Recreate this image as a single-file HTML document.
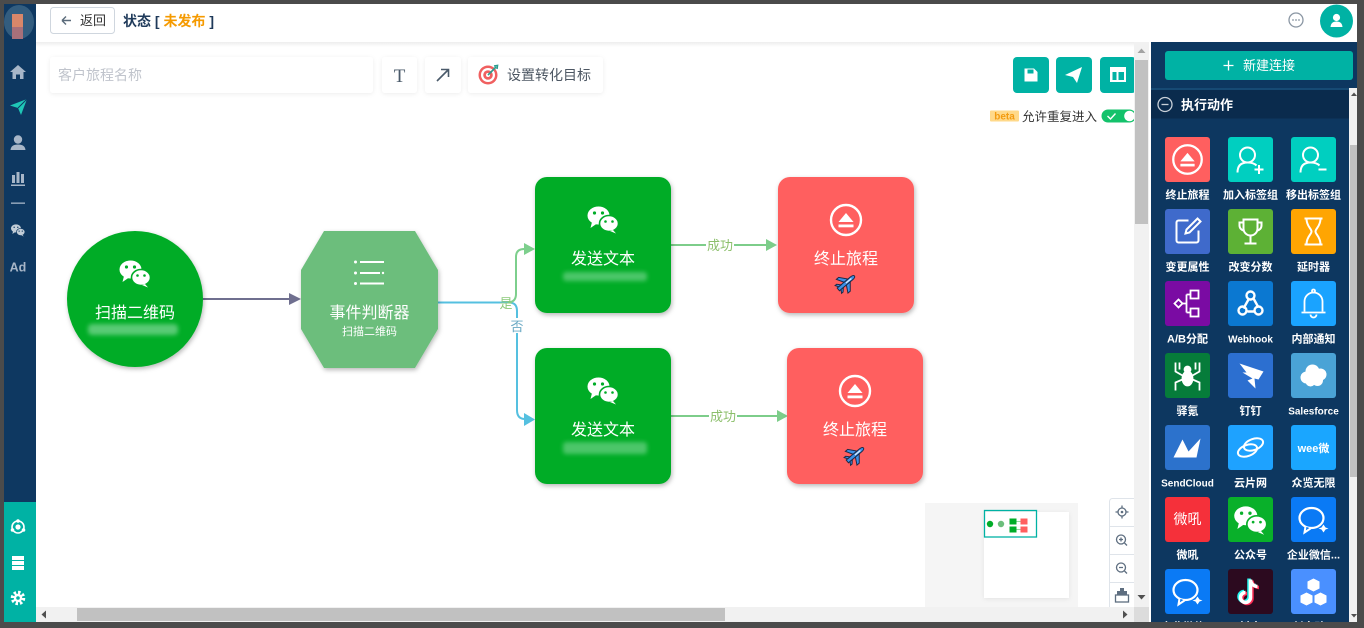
<!DOCTYPE html>
<html><head><meta charset="utf-8">
<style>
html,body{margin:0;padding:0;width:1364px;height:628px;overflow:hidden;background:#4b4b4b;}
svg{display:block;font-family:"Liberation Sans","Noto Sans CJK SC",sans-serif;}
</style></head><body>
<svg width="1364" height="628" viewBox="0 0 1364 628" xmlns="http://www.w3.org/2000/svg">
<defs>
 <filter id="sh" x="-20%" y="-20%" width="140%" height="140%"><feDropShadow dx="1" dy="2" stdDeviation="2.5" flood-color="#000" flood-opacity="0.28"/></filter>
 <filter id="sh2" x="-10%" y="-30%" width="120%" height="160%"><feDropShadow dx="0" dy="1" stdDeviation="2" flood-color="#000" flood-opacity="0.07"/></filter>
 <filter id="bl" x="-20%" y="-60%" width="140%" height="220%"><feGaussianBlur stdDeviation="2"/></filter>
 <linearGradient id="hs" x1="0" y1="0" x2="0" y2="1"><stop offset="0" stop-color="#000" stop-opacity="0.07"/><stop offset="1" stop-color="#000" stop-opacity="0"/></linearGradient>
 <g id="wx">
  <ellipse cx="-4.5" cy="-3.5" rx="11" ry="9" fill="#fff"/>
  <polygon points="-11,3 -12.5,9 -6,4.5" fill="#fff"/>
  <circle cx="-8.5" cy="-6" r="1.6" fill="currentColor"/>
  <circle cx="-0.5" cy="-6" r="1.6" fill="currentColor"/>
  <ellipse cx="6" cy="4.5" rx="9.5" ry="8" fill="#fff" stroke="currentColor" stroke-width="1.6"/>
  <polygon points="10,11 13,14.5 7,12" fill="#fff"/>
  <circle cx="2.5" cy="2.5" r="1.3" fill="currentColor"/>
  <circle cx="9.5" cy="2.5" r="1.3" fill="currentColor"/>
 </g>
 <g id="ej">
  <circle cx="0" cy="0" r="15" fill="none" stroke="#fff" stroke-width="2.4"/>
  <polygon points="-7.5,2 7.5,2 0,-7" fill="#fff"/>
  <rect x="-7.5" y="4.5" width="15" height="2.8" fill="#fff"/>
 </g>
 <g id="pl">
  <g transform="rotate(-40)">
   <path d="M-10 -1.8 H7 Q11 -1.8 11 0 Q11 1.8 7 1.8 H-10 Z" fill="#3d8fe6" stroke="#1b2b48" stroke-width="1"/>
   <path d="M-1 -1.8 L-5 -9 L-2 -9 L4 -1.8 Z" fill="#3d8fe6" stroke="#1b2b48" stroke-width="1"/>
   <path d="M-1 1.8 L-5 9 L-2 9 L4 1.8 Z" fill="#3d8fe6" stroke="#1b2b48" stroke-width="1"/>
   <path d="M-8 -1.8 L-10 -5 L-8 -5 L-5 -1.8 Z M-8 1.8 L-10 5 L-8 5 L-5 1.8 Z" fill="#3d8fe6" stroke="#1b2b48" stroke-width="1"/>
   <rect x="0" y="-0.6" width="7" height="1.2" fill="#dfefff"/>
  </g>
 </g>
 <g id="qw">
  <ellipse cx="-2" cy="-1.5" rx="12" ry="10" fill="none" stroke="#fff" stroke-width="2.2"/>
  <path d="M-8 7 L-9 13 L-3 9" fill="#0a7af5" stroke="#fff" stroke-width="2"/>
  <path d="M10 5 L12 8 L15 9 L12 10 L10 13 L8 10 L5 9 L8 8 Z" fill="#fff"/>
 </g>
</defs>

<!-- sidebar -->
<rect x="4" y="4" width="32" height="618" fill="#0e3861"/>
<ellipse cx="19" cy="22" rx="15" ry="17" fill="#3d6687" opacity="0.8"/>
<rect x="12" y="14" width="11" height="13" fill="#d9876a"/>
<rect x="12" y="27" width="11" height="12" fill="#a8707a"/>
<path d="M10 72 L18 65 L26 72 H23.5 V79 H20 V74.5 H16 V79 H12.5 V72 Z" fill="#a7b6c8"/>
<polygon points="10,105.5 27,99 21,115 18,108" fill="#1fc7b6"/>
<line x1="18" y1="108" x2="27" y2="99" stroke="#0e3861" stroke-width="1"/>
<circle cx="18" cy="139.5" r="4.2" fill="#a7b6c8"/>
<path d="M10.5 150 Q11 144.5 18 144.5 Q25 144.5 25.5 150 Z" fill="#a7b6c8"/>
<rect x="12" y="175" width="3" height="8" fill="#a7b6c8"/>
<rect x="16.5" y="172" width="3" height="11" fill="#a7b6c8"/>
<rect x="21" y="174" width="3" height="9" fill="#a7b6c8"/>
<rect x="11" y="184.5" width="14" height="1.5" fill="#a7b6c8"/>
<rect x="11" y="202.5" width="14" height="1.3" fill="#a7b6c8"/>
<use href="#wx" transform="translate(18,230) scale(0.45)" color="#0e3861" opacity="0.75"/>
<text x="18" y="271.5" font-size="12.5" font-weight="bold" fill="#a7b6c8" text-anchor="middle">Ad</text>
<rect x="4" y="502" width="32" height="120" fill="#00b2a4"/>
<circle cx="18" cy="527" r="6" fill="none" stroke="#fff" stroke-width="1.6"/>
<circle cx="18" cy="527" r="2.6" fill="#fff"/>
<circle cx="18" cy="521" r="1.8" fill="#fff"/><circle cx="12.5" cy="530" r="1.8" fill="#fff"/><circle cx="23.5" cy="530" r="1.8" fill="#fff"/>
<rect x="12" y="556" width="12" height="4" fill="#fff"/><rect x="12" y="561" width="12" height="4" fill="#fff"/><rect x="12" y="566" width="12" height="4" fill="#fff"/>
<circle cx="18" cy="598" r="5.5" fill="none" stroke="#fff" stroke-width="3.5" stroke-dasharray="2.4 1.9"/>
<circle cx="18" cy="598" r="4.2" fill="#fff"/>
<circle cx="18" cy="598" r="1.8" fill="#00b2a4"/>

<!-- header -->
<rect x="36" y="4" width="1321" height="38" fill="#fff"/>
<rect x="50.5" y="7.5" width="64" height="26" rx="3" fill="#fff" stroke="#cfd6de"/>
<path d="M62 20.5 H71 M62 20.5 L66 16.5 M62 20.5 L66 24.5" stroke="#5a6a7a" stroke-width="1.4" fill="none"/>
<text x="80" y="25" font-size="13" fill="#333">返回</text>
<text x="123" y="26" font-size="14" font-weight="bold" fill="#1f3a5a">状态 [ <tspan fill="#f59a00">未发布</tspan> ]</text>
<circle cx="1296" cy="20" r="7" fill="none" stroke="#8a96a3" stroke-width="1.3"/>
<circle cx="1293" cy="20" r="0.9" fill="#8a96a3"/><circle cx="1296" cy="20" r="0.9" fill="#8a96a3"/><circle cx="1299" cy="20" r="0.9" fill="#8a96a3"/>
<circle cx="1336.5" cy="21" r="16.5" fill="#00b2a4"/>
<circle cx="1336.5" cy="17.5" r="3.6" fill="#fff"/>
<path d="M1330.5 27 Q1331 21.5 1336.5 21.5 Q1342 21.5 1342.5 27 Z" fill="#fff"/>

<!-- canvas -->
<rect x="36" y="42" width="1098" height="565" fill="#fff"/>
<rect x="36" y="42" width="1321" height="5" fill="url(#hs)"/>

<!-- toolbar -->
<rect x="50" y="57" width="323" height="36" rx="3" fill="#fff" filter="url(#sh2)"/>
<text x="58" y="80" font-size="14" fill="#c0c4cc">客户旅程名称</text>
<rect x="382" y="57" width="35" height="36" rx="3" fill="#fff" filter="url(#sh2)"/>
<text x="399.5" y="82" font-size="19" fill="#4a5a6a" text-anchor="middle" font-family="Liberation Serif, serif">T</text>
<rect x="425" y="57" width="36" height="36" rx="3" fill="#fff" filter="url(#sh2)"/>
<path d="M437 81 L448 70 M441 69.5 H448.5 V77" stroke="#4a5a6a" stroke-width="1.6" fill="none"/>
<rect x="468" y="57" width="135" height="36" rx="3" fill="#fff" filter="url(#sh2)"/>
<circle cx="488" cy="75" r="9.5" fill="#f06060"/>
<circle cx="488" cy="75" r="7" fill="#fff"/>
<circle cx="488" cy="75" r="4.8" fill="#f06060"/>
<circle cx="488" cy="75" r="2" fill="#fff"/>
<path d="M488 75 L496 67" stroke="#2a9d8f" stroke-width="1.6"/>
<path d="M494 66 L497.5 65.5 L497 69" stroke="#2a9d8f" stroke-width="1.6" fill="none"/>
<text x="507" y="80" font-size="14" fill="#4d5763">设置转化目标</text>

<rect x="1013" y="57" width="36" height="36" rx="4" fill="#00b2a4"/>
<path d="M1024.5 68.5 H1034 L1037.5 72 V81.5 H1024.5 Z" fill="#fff"/>
<rect x="1027.5" y="69.5" width="6" height="4" fill="#00b2a4"/>
<rect x="1056" y="57" width="36" height="36" rx="4" fill="#00b2a4"/>
<polygon points="1065,75 1082,67 1077,83 1073,77" fill="#fff"/>
<rect x="1100" y="57" width="36" height="36" rx="4" fill="#00b2a4"/>
<rect x="1110" y="67" width="16" height="15" fill="#fff"/>
<rect x="1112.5" y="72" width="4" height="8" fill="#00b2a4"/>
<rect x="1118.5" y="72" width="5.5" height="8" fill="#00b2a4"/>

<rect x="990" y="110.5" width="29" height="11" rx="1" fill="#ffd98a"/>
<text x="1004.5" y="119.5" font-size="10" font-weight="bold" fill="#f39c12" text-anchor="middle">beta</text>
<text x="1022" y="121" font-size="12.5" fill="#333">允许重复进入</text>
<rect x="1101.5" y="109.5" width="34.5" height="13" rx="6.5" fill="#13c26b"/>
<circle cx="1129.5" cy="116" r="5.3" fill="#fff"/>
<path d="M1107.5 116 L1110.5 119 L1115.5 113.5" stroke="#fff" stroke-width="1.4" fill="none"/>

<!-- connectors -->
<line x1="203" y1="299" x2="291" y2="299" stroke="#6f6f8f" stroke-width="2"/>
<polygon points="289,293 301,299 289,305" fill="#6f6f8f"/>
<path d="M438 302.5 H509 Q517 302.5 517 311 V410 Q517 419 525 419 H527" stroke="#55c0e0" stroke-width="2" fill="none"/>
<polygon points="524,413 535,419.5 524,426" fill="#55c0e0"/>
<path d="M508 302.5 Q516 302 516 294 V257 Q516 249 524 249 H527" stroke="#7dcf8d" stroke-width="2" fill="none"/>
<polygon points="524,243 535,249 524,255" fill="#7dcf8d"/>
<text x="506" y="308" font-size="13" fill="#8cc97a" text-anchor="middle">是</text>
<rect x="510" y="318" width="14" height="15" fill="#fff"/>
<text x="517" y="331" font-size="13" fill="#6aa9c4" text-anchor="middle">否</text>

<line x1="671" y1="245" x2="768" y2="245" stroke="#7dcd8a" stroke-width="2"/>
<polygon points="766,239 777,245 766,251" fill="#7dcd8a"/>
<rect x="706" y="237" width="28" height="16" fill="#fff"/>
<text x="720" y="250" font-size="13" fill="#8cbf6b" text-anchor="middle">成功</text>
<line x1="671" y1="416" x2="779" y2="416" stroke="#7dcd8a" stroke-width="2"/>
<polygon points="777,410 788,416 777,422" fill="#7dcd8a"/>
<rect x="709" y="408" width="28" height="16" fill="#fff"/>
<text x="723" y="421" font-size="13" fill="#8cbf6b" text-anchor="middle">成功</text>

<!-- nodes -->
<circle cx="135" cy="299" r="68" fill="#00ac28" filter="url(#sh)"/>
<use href="#wx" transform="translate(135,273)" color="#00ac28"/>
<text x="135" y="318" font-size="16" fill="#fff" text-anchor="middle">扫描二维码</text>
<rect x="88" y="324" width="90" height="11" rx="4" fill="#7fd896" opacity="0.7" filter="url(#bl)"/>

<polygon points="324,231 415,231 438,270 438,329 415,368 324,368 301,329 301,270" fill="#6cbe7c" filter="url(#sh)"/>
<circle cx="355.5" cy="262" r="1.5" fill="#fff"/><rect x="360" y="261" width="24" height="2" fill="#fff"/>
<circle cx="355.5" cy="273" r="1.5" fill="#fff"/><rect x="360" y="272" width="20" height="2" fill="#fff"/><circle cx="383" cy="273" r="1.2" fill="#fff"/>
<circle cx="355.5" cy="283.5" r="1.5" fill="#fff"/><rect x="360" y="282.5" width="24" height="2" fill="#fff"/>
<text x="369.5" y="318" font-size="16" fill="#fff" text-anchor="middle">事件判断器</text>
<text x="369.5" y="335" font-size="11" fill="#fff" text-anchor="middle">扫描二维码</text>

<rect x="535" y="177" width="136" height="136" rx="12" fill="#00ac28" filter="url(#sh)"/>
<use href="#wx" transform="translate(603,219)" color="#00ac28"/>
<text x="603" y="264" font-size="16" fill="#fff" text-anchor="middle">发送文本</text>
<rect x="563" y="272" width="84" height="9" rx="3" fill="#7fd896" opacity="0.6" filter="url(#bl)"/>

<rect x="778" y="177" width="136" height="136" rx="12" fill="#ff5f5f" filter="url(#sh)"/>
<use href="#ej" transform="translate(846,220)"/>
<text x="846" y="264" font-size="16" fill="#fff" text-anchor="middle">终止旅程</text>
<use href="#pl" transform="translate(846,283)"/>

<rect x="535" y="348" width="136" height="136" rx="12" fill="#00ac28" filter="url(#sh)"/>
<use href="#wx" transform="translate(603,390)" color="#00ac28"/>
<text x="603" y="435" font-size="16" fill="#fff" text-anchor="middle">发送文本</text>
<rect x="563" y="442" width="84" height="12" rx="3" fill="#7fd896" opacity="0.6" filter="url(#bl)"/>

<rect x="787" y="348" width="136" height="136" rx="12" fill="#ff5f5f" filter="url(#sh)"/>
<use href="#ej" transform="translate(855,391)"/>
<text x="855" y="435" font-size="16" fill="#fff" text-anchor="middle">终止旅程</text>
<use href="#pl" transform="translate(855,455)"/>

<!-- minimap -->
<rect x="925" y="503" width="153" height="106" fill="#f5f5f5"/>
<rect x="984" y="512" width="85" height="86" fill="#fff" filter="url(#sh2)"/>
<circle cx="990" cy="524" r="3.2" fill="#00ac28"/>
<circle cx="1001" cy="524" r="3.2" fill="#6cbe7c"/>
<rect x="1009.5" y="518.5" width="7" height="6" fill="#00ac28"/>
<rect x="1009.5" y="526.5" width="7" height="6" fill="#00ac28"/>
<rect x="1020.5" y="518.5" width="7" height="6" fill="#ff5f5f"/>
<rect x="1020.5" y="526.5" width="7" height="6" fill="#ff5f5f"/>
<line x1="1016.5" y1="521.5" x2="1020.5" y2="521.5" stroke="#7dcd8a" stroke-width="0.8"/>
<line x1="1016.5" y1="529.5" x2="1020.5" y2="529.5" stroke="#7dcd8a" stroke-width="0.8"/>
<rect x="984.5" y="510.5" width="52" height="26.5" fill="none" stroke="#00b2a4" stroke-width="1.3"/>

<!-- zoom controls -->
<rect x="1109.5" y="498.5" width="27" height="112" rx="3" fill="#fff" stroke="#dfe4ea"/>
<line x1="1110" y1="526.5" x2="1136" y2="526.5" stroke="#dfe4ea"/>
<line x1="1110" y1="554.5" x2="1136" y2="554.5" stroke="#dfe4ea"/>
<line x1="1110" y1="582.5" x2="1136" y2="582.5" stroke="#dfe4ea"/>
<circle cx="1122" cy="512" r="4" fill="none" stroke="#5e6e80" stroke-width="1.3"/>
<circle cx="1122" cy="512" r="1.3" fill="#5e6e80"/>
<path d="M1122 505.5 V507.5 M1122 516.5 V518.5 M1115.5 512 H1117.5 M1126.5 512 H1128.5" stroke="#5e6e80" stroke-width="1.3"/>
<circle cx="1121" cy="539.5" r="4.5" fill="none" stroke="#5e6e80" stroke-width="1.3"/>
<path d="M1119 539.5 H1123 M1121 537.5 V541.5 M1124.5 543 L1127 545.5" stroke="#5e6e80" stroke-width="1.3"/>
<circle cx="1121" cy="567.5" r="4.5" fill="none" stroke="#5e6e80" stroke-width="1.3"/>
<path d="M1119 567.5 H1123 M1124.5 571 L1127 573.5" stroke="#5e6e80" stroke-width="1.3"/>
<rect x="1117" y="591" width="10" height="4" fill="#5e6e80"/>
<rect x="1115.5" y="595" width="13" height="7" fill="none" stroke="#5e6e80" stroke-width="1.3"/>
<rect x="1120" y="588" width="4" height="3" fill="#5e6e80"/>

<!-- canvas scrollbars -->
<rect x="1134" y="42" width="15" height="565" fill="#f1f1f1"/>
<rect x="1135" y="60" width="13" height="164" fill="#c1c1c1"/>
<polygon points="1137.5,53 1141.5,48.5 1145.5,53" fill="#a3a3a3"/>
<polygon points="1137.5,595 1141.5,599.5 1145.5,595" fill="#505050"/>
<rect x="36" y="607" width="1098" height="15" fill="#f1f1f1"/>
<rect x="77" y="608" width="648" height="13" fill="#c1c1c1"/>
<polygon points="46,610.5 41.5,614.5 46,618.5" fill="#505050"/>
<polygon points="1123,610.5 1127.5,614.5 1123,618.5" fill="#505050"/>
<rect x="1134" y="607" width="15" height="15" fill="#dcdcdc"/>

<!-- right panel -->
<rect x="1149" y="42" width="2" height="580" fill="#fff"/>
<rect x="1151" y="42" width="206" height="580" fill="#0d3760"/>
<rect x="1165" y="51" width="188" height="29" rx="3" fill="#00b2a4"/>
<path d="M1223.5 65.5 H1233.5 M1228.5 60.5 V70.5" stroke="#fff" stroke-width="1.3"/>
<text x="1243" y="70" font-size="13" fill="#fff">新建连接</text>
<rect x="1151" y="88" width="206" height="2" fill="#164a74"/>
<rect x="1151" y="90" width="198" height="28.5" fill="#0a2b4d"/>
<circle cx="1165" cy="104.5" r="7" fill="none" stroke="#c8d0d8" stroke-width="1.3"/>
<line x1="1161.5" y1="104.5" x2="1168.5" y2="104.5" stroke="#c8d0d8" stroke-width="1.3"/>
<text x="1181" y="109.5" font-size="13" font-weight="bold" fill="#fff">执行动作</text>
<rect x="1349" y="88" width="8" height="534" fill="#f1f1f1"/>
<rect x="1350" y="145" width="7" height="332" fill="#c1c1c1"/>
<polygon points="1351,96 1354,92.5 1357,96" fill="#505050"/>
<polygon points="1351,614 1354,617.5 1357,614" fill="#505050"/>

<!-- grid tiles -->
<g>
<rect x="1165" y="137" width="45" height="45" rx="3" fill="#ff5f5f"/>
<rect x="1228" y="137" width="45" height="45" rx="3" fill="#00cfc0"/>
<rect x="1291" y="137" width="45" height="45" rx="3" fill="#00cfc0"/>
<rect x="1165" y="209" width="45" height="45" rx="3" fill="#3f6acb"/>
<rect x="1228" y="209" width="45" height="45" rx="3" fill="#5db135"/>
<rect x="1291" y="209" width="45" height="45" rx="3" fill="#ffa502"/>
<rect x="1165" y="281" width="45" height="45" rx="3" fill="#7a0ba3"/>
<rect x="1228" y="281" width="45" height="45" rx="3" fill="#0b78d1"/>
<rect x="1291" y="281" width="45" height="45" rx="3" fill="#1aa3ff"/>
<rect x="1165" y="353" width="45" height="45" rx="3" fill="#067c3a"/>
<rect x="1228" y="353" width="45" height="45" rx="3" fill="#2c6fd0"/>
<rect x="1291" y="353" width="45" height="45" rx="3" fill="#4aa3d6"/>
<rect x="1165" y="425" width="45" height="45" rx="3" fill="#2c72cc"/>
<rect x="1228" y="425" width="45" height="45" rx="3" fill="#1ea2ff"/>
<rect x="1291" y="425" width="45" height="45" rx="3" fill="#1aa6ff"/>
<rect x="1165" y="497" width="45" height="45" rx="3" fill="#f5303a"/>
<rect x="1228" y="497" width="45" height="45" rx="3" fill="#09b02a"/>
<rect x="1291" y="497" width="45" height="45" rx="3" fill="#0a7af5"/>
<rect x="1165" y="569" width="45" height="45" rx="3" fill="#0a7af5"/>
<rect x="1228" y="569" width="45" height="45" rx="3" fill="#2c0a1f"/>
<rect x="1291" y="569" width="45" height="45" rx="3" fill="#4a90ff"/>
</g>
<!-- grid glyphs -->
<use href="#ej" transform="translate(1187.5,159.5) scale(0.95)"/>
<g transform="translate(1250.5,159.5)" stroke="#fff" stroke-width="2" fill="none">
 <circle cx="-3" cy="-4.5" r="7.5"/><path d="M-13 13 Q-13 3 -3 3 Q3 3 6 6"/><path d="M4 10 H13 M8.5 5.5 V14.5"/>
</g>
<g transform="translate(1313.5,159.5)" stroke="#fff" stroke-width="2" fill="none">
 <circle cx="-3" cy="-4.5" r="7.5"/><path d="M-13 13 Q-13 3 -3 3 Q3 3 6 6"/><path d="M5 10 H13"/>
</g>
<g transform="translate(1187.5,231.5)" stroke="#fff" stroke-width="2" fill="none">
 <path d="M1 -11 H-9 a2 2 0 0 0 -2 2 V9 a2 2 0 0 0 2 2 H9 a2 2 0 0 0 2 -2 V-1"/><path d="M10 -13 L13 -10 L2 1 L-2 2 L-1 -2 Z"/>
</g>
<g transform="translate(1250.5,231.5)" stroke="#fff" stroke-width="2" fill="none">
 <path d="M-7 -12 H7 V-3 a7 7 0 0 1 -14 0 Z"/><path d="M-7 -9 H-11 V-6 a5 5 0 0 0 5 5 M7 -9 H11 V-6 a5 5 0 0 1 -5 5"/><path d="M0 4 V11 M-6 12 H6"/>
</g>
<g transform="translate(1313.5,231.5)" stroke="#fff" stroke-width="2" fill="none">
 <path d="M-9 -13 H9 M-9 13 H9"/><path d="M-7 -13 C-7 -5 -2 -3 -2 0 C-2 3 -7 5 -7 13 M7 -13 C7 -5 2 -3 2 0 C2 3 7 5 7 13"/>
</g>
<g transform="translate(1187.5,303.5)" stroke="#fff" stroke-width="1.8" fill="none">
 <polygon points="-13,0 -9,-4 -5,0 -9,4"/><rect x="3" y="-13" width="8" height="8"/><rect x="3" y="5" width="8" height="8"/><path d="M-5 0 H-1 M-1 -9 V9 M-1 -9 H3 M-1 9 H3"/>
</g>
<g transform="translate(1250.5,303.5)" stroke="#fff" stroke-width="2.4" fill="none">
 <path d="M-2 -4 L-7 5 M3 -5 L8 4 M-3 8 H4"/><circle cx="0" cy="-8" r="4"/><circle cx="-8" cy="7" r="4"/><circle cx="8" cy="7" r="4"/>
</g>
<g transform="translate(1313.5,303.5)" stroke="#fff" stroke-width="1.8" fill="none">
 <path d="M-9 8 V-2 a9 9 0 0 1 18 0 V8"/><path d="M-12 9 H12"/><circle cx="0" cy="-12.5" r="1.5"/><path d="M-3 11 a3 3 0 0 0 6 0"/>
</g>
<g transform="translate(1187.5,375.5)" stroke="#fff" stroke-width="1.8" fill="none">
 <ellipse cx="0" cy="3" rx="5" ry="7" fill="#fff"/><circle cx="0" cy="-6" r="3" fill="#fff"/>
 <path d="M-12 -13 V-4 L-5 0 M12 -13 V-4 L5 0 M-12 15 V7 L-5 4 M12 15 V7 L5 4 M-8 -13 V-6 M8 -13 V-6"/>
</g>
<path transform="translate(1250.5,375.5)" d="M-11 -12 L13 -4 L8 4 L4 3 L5 13 L-3 5 L2 3 L-8 -3 L-4 -3 Z" fill="#fff"/>
<g transform="translate(1313.5,375.5)" fill="#fff">
 <circle cx="-7" cy="2" r="6"/><circle cx="-1" cy="-4" r="7"/><circle cx="7" cy="-1" r="6"/><circle cx="4" cy="5" r="5.5"/><circle cx="-3" cy="6" r="5"/>
</g>
<polygon transform="translate(1187.5,447.5)" points="-14,10 -5,-8 1,4 13,-9 9,10" fill="#fff"/>
<g transform="translate(1250.5,447.5)" stroke="#fff" stroke-width="2" fill="none">
 <ellipse cx="-3" cy="3" rx="10" ry="5.5" transform="rotate(-20 -3 3)"/><ellipse cx="3" cy="-3" rx="10" ry="5.5" transform="rotate(-20 3 -3)"/>
</g>
<text x="1313.5" y="452" font-size="11" font-weight="bold" fill="#fff" text-anchor="middle">wee微</text>
<text x="1187.5" y="524" font-size="14" fill="#fff" text-anchor="middle">微吼</text>
<use href="#wx" transform="translate(1250.5,519.5) scale(1.05)" color="#09b02a"/>
<use href="#qw" transform="translate(1313.5,519.5)"/>
<use href="#qw" transform="translate(1187.5,591.5)"/>
<g transform="translate(1250.5,591.5)" fill="none" stroke-width="3.5">
 <path d="M0 -12 V6 a5 5 0 1 1 -5 -5 M0 -12 a7 7 0 0 0 7 7" stroke="#25f4ee" transform="translate(-1.5,-1)"/>
 <path d="M0 -12 V6 a5 5 0 1 1 -5 -5 M0 -12 a7 7 0 0 0 7 7" stroke="#fe2c55" transform="translate(1.5,1)"/>
 <path d="M0 -12 V6 a5 5 0 1 1 -5 -5 M0 -12 a7 7 0 0 0 7 7" stroke="#fff"/>
</g>
<g transform="translate(1313.5,591.5)" fill="#fff">
 <polygon points="0,-13 6,-10 6,-3 0,0 -6,-3 -6,-10"/><polygon points="-7,1 -1,4 -1,11 -7,14 -13,11 -13,4"/><polygon points="7,1 13,4 13,11 7,14 1,11 1,4"/>
</g>
<!-- labels -->
<g font-size="11" font-weight="bold" fill="#fff" text-anchor="middle">
<text x="1187.5" y="198.5">终止旅程</text><text x="1250.5" y="198.5">加入标签组</text><text x="1313.5" y="198.5">移出标签组</text>
<text x="1187.5" y="270.5">变更属性</text><text x="1250.5" y="270.5">改变分数</text><text x="1313.5" y="270.5">延时器</text>
<text x="1187.5" y="342.5">A/B分配</text><text x="1250.5" y="342.5" font-size="10">Webhook</text><text x="1313.5" y="342.5">内部通知</text>
<text x="1187.5" y="414.5">驿氪</text><text x="1250.5" y="414.5">钉钉</text><text x="1313.5" y="414.5" font-size="10">Salesforce</text>
<text x="1187.5" y="486.5" font-size="10">SendCloud</text><text x="1250.5" y="486.5">云片网</text><text x="1313.5" y="486.5">众览无限</text>
<text x="1187.5" y="558.5">微吼</text><text x="1250.5" y="558.5">公众号</text><text x="1313.5" y="558.5">企业微信...</text>
<text x="1187.5" y="630.5">企业微信...</text><text x="1250.5" y="630.5">抖音</text><text x="1313.5" y="630.5">创客贴...</text>
</g>

<!-- outer frame -->
<rect x="0" y="0" width="1364" height="4" fill="#4b4b4b"/>
<rect x="0" y="0" width="4" height="628" fill="#4b4b4b"/>
<rect x="1357" y="0" width="7" height="628" fill="#4b4b4b"/>
<rect x="0" y="622" width="1364" height="6" fill="#4b4b4b"/>
</svg>
</body></html>
